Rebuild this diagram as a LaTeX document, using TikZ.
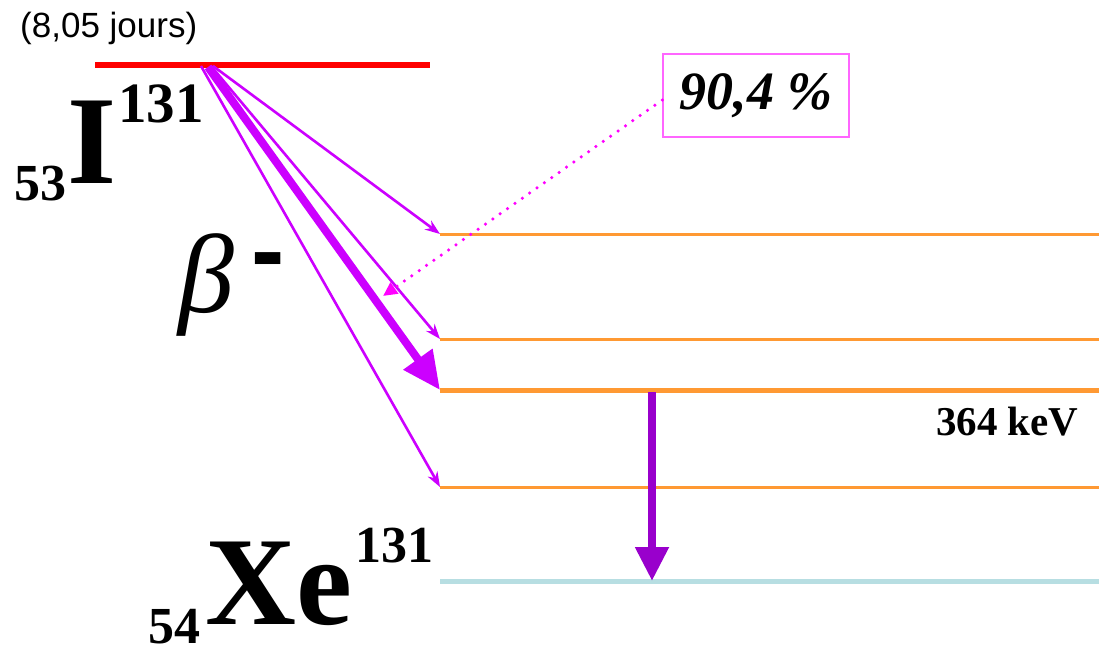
\documentclass[tikz,border=0pt]{standalone}
\usepackage{fontspec}
\setmainfont{Liberation Serif}
\newfontfamily\arialf{Liberation Sans}
\usetikzlibrary{arrows.meta}
\definecolor{lvlorange}{RGB}{255,153,51}
\definecolor{lvlcyan}{RGB}{183,222,226}
\definecolor{betamag}{RGB}{204,0,255}
\definecolor{dotmag}{RGB}{255,0,255}
\definecolor{boxmag}{RGB}{255,102,255}
\definecolor{gammapurple}{RGB}{153,0,204}
\tikzset{
  lvl/.style={draw=lvlorange, line width=3pt},
  lvlthick/.style={draw=lvlorange, line width=5pt},
  thinbeta/.style={draw=betamag, line width=2.6pt, -{Stealth[length=15pt,width=11pt]}},
  thickbeta/.style={draw=betamag, line width=8pt, -{Triangle[length=38pt,width=34pt]}},
  dotarrow/.style={draw=dotmag, line width=3.5pt, line cap=round, dash pattern=on 0pt off 9pt, -{Triangle[length=14pt,width=13pt]}},
  gammaarrow/.style={draw=gammapurple, line width=8pt, -{Triangle[length=34pt,width=32pt]}},
  lbl/.style={inner sep=0pt, anchor=base west},
}
\begin{document}
\begin{tikzpicture}[x=1pt,y=-1pt]
\useasboundingbox (0,0) rectangle (1099,648);
% levels
\coordinate (I0) at (95,65);
\coordinate (I1) at (430,65);
\coordinate (L1a) at (440,234); \coordinate (L1b) at (1099,234);
\coordinate (L2a) at (440,339); \coordinate (L2b) at (1099,339);
\coordinate (L3a) at (440,390); \coordinate (L3b) at (1099,390);
\coordinate (L4a) at (440,487); \coordinate (L4b) at (1099,487);
\coordinate (G0a) at (440,581); \coordinate (G0b) at (1099,581);
\draw[red, line width=6pt] (I0) -- (I1);
\draw[lvl] (L1a) -- (L1b);
\draw[lvl] (L2a) -- (L2b);
\draw[lvlthick] (L3a) -- (L3b);
\draw[lvl] (L4a) -- (L4b);
\draw[draw=lvlcyan, line width=5pt] (G0a) -- (G0b);
% sources
\coordinate (s1) at (213,66);
\coordinate (s2) at (211,66);
\coordinate (s3) at (208,67);
\coordinate (s4) at (201,66);
\draw[thinbeta] (s1) -- (L1a);
\draw[thinbeta] (s2) -- (L2a);
\draw[thickbeta] (s3) -- (L3a);
\draw[thinbeta] (s4) -- (L4a);
% gamma
\coordinate (g0) at (652,392);
\coordinate (g1) at (652,581);
\draw[gammaarrow] (g0) -- (g1);
% labels
\node[lbl] (half) at (20,37) {\arialf\fontsize{35}{35}\selectfont (8,05 jours)};
\node[lbl] (Iz) at (14,200) {\fontsize{52}{52}\selectfont\bfseries 53};
\node[lbl] (Isym) at (67,183) {\fontsize{126}{126}\selectfont\bfseries I};
\node[lbl] (Ia) at (118,122) {\fontsize{57}{57}\selectfont\bfseries 131};
\node[lbl] (Xz) at (148,643) {\fontsize{52}{52}\selectfont\bfseries 54};
\node[lbl] (Xsym) at (205,624) {\fontsize{126}{126}\selectfont\bfseries Xe};
\node[lbl] (Xa) at (355,562) {\fontsize{52}{52}\selectfont\bfseries 131};
\node[lbl] (beta) at (178,312) {\fontsize{112}{112}\selectfont\itshape β};
\node[lbl] (minus) at (251,284) {\arialf\fontsize{100}{100}\selectfont\bfseries -};
\node[lbl] (kev) at (936,435) {\fontsize{41}{41}\selectfont\bfseries 364 keV};
\node[draw=boxmag, line width=1.5pt, minimum width=186pt, minimum height=83pt, inner sep=0pt] (pct) at (756,95.5) {\raisebox{-5pt}{\fontsize{54}{54}\selectfont\bfseries\itshape 90,4 \%}};
\coordinate (dotend) at (383,296);
\draw[dotarrow] (pct.west |- 0,100) -- (dotend);
\end{tikzpicture}
\end{document}
